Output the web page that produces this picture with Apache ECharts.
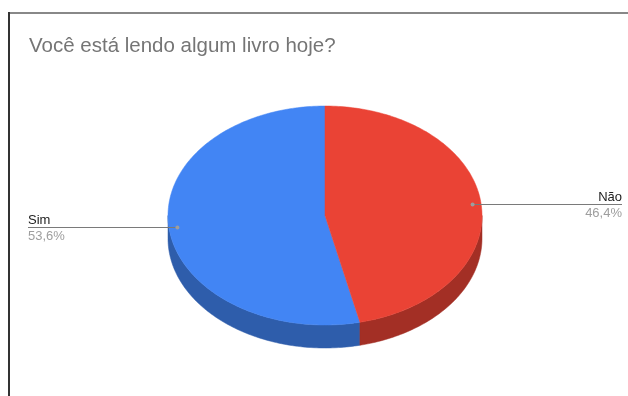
<!DOCTYPE html>
<html>
<head>
<meta charset="utf-8">
<script src="https://cdn.jsdelivr.net/npm/echarts@6/dist/echarts.min.js"></script>
<style>
html,body{margin:0;padding:0;background:#fff;}
#chart{width:628px;height:396px;}
</style>
</head>
<body>
<div id="chart"></div>
<script>
// ---- data ----
var categories = ['Sim', 'Não'];
var values = [15, 13];
var topColors = ['#4285F4', '#EA4335'];
var sideColors = ['#2E5DAB', '#A32F25'];
var titleText = 'Você está lendo algum livro hoje?';

// ---- layout constants ----
var CX = 325, CY = 215.5, RX = 157, RY = 109.5, DEPTH = 23;

var total = values.reduce(function (a, b) { return a + b; }, 0);
// slices laid out counter-clockwise from 12 o'clock (angles measured clockwise from top, in degrees)
var sliceData = [];
var acc = 0;
for (var i = 0; i < values.length; i++) {
  var end = 360 - acc / total * 360;
  acc += values[i];
  var start = 360 - acc / total * 360;
  sliceData.push([start, end, i, values[i]]);
}

function pt(deg, dy) {
  var r = deg * Math.PI / 180;
  return [CX + RX * Math.sin(r), CY - RY * Math.cos(r) + (dy || 0)];
}
function arcPts(a, b, dy) {
  var pts = [];
  var n = Math.max(2, Math.ceil(Math.abs(b - a) / 1));
  for (var k = 0; k <= n; k++) pts.push(pt(a + (b - a) * k / n, dy));
  return pts;
}
function fmtPct(v) {
  return (v / total * 100).toFixed(1).replace('.', ',') + '%';
}

var chart = echarts.init(document.getElementById('chart'), null, { renderer: 'canvas' });

var FONT = 'Liberation Sans, Arial, sans-serif';
var option = {
  animation: false,
  backgroundColor: '#ffffff',
  title: {
    text: titleText,
    left: 29, top: 36, padding: 0,
    textStyle: { fontFamily: FONT, fontSize: 20.5, fontWeight: 'normal', color: '#757575' }
  },
  graphic: [
    { type: 'line', shape: { x1: 9, y1: 13, x2: 628, y2: 13 }, style: { stroke: '#888888', lineWidth: 2 } },
    { type: 'line', shape: { x1: 9, y1: 12, x2: 9, y2: 396 }, style: { stroke: '#333333', lineWidth: 2 } }
  ],
  series: [
    {
      // side walls
      type: 'custom', coordinateSystem: 'none', silent: true, z: 1,
      data: sliceData,
      renderItem: function (params, api) {
        var a = api.value(0), b = api.value(1), idx = api.value(2);
        var lo = Math.max(a, 90), hi = Math.min(b, 270);
        if (hi <= lo) return { type: 'group', children: [] };
        var top = arcPts(lo, hi, 0);
        var bot = arcPts(hi, lo, DEPTH);
        return {
          type: 'polygon',
          shape: { points: top.concat(bot) },
          style: { fill: sideColors[idx], stroke: sideColors[idx], lineWidth: 0.5 }
        };
      }
    },
    {
      // top faces
      type: 'custom', coordinateSystem: 'none', silent: true, z: 2,
      data: sliceData,
      renderItem: function (params, api) {
        var a = api.value(0), b = api.value(1), idx = api.value(2);
        var pts = [[CX, CY]].concat(arcPts(a, b, 0));
        return {
          type: 'polygon',
          shape: { points: pts },
          style: { fill: topColors[idx], stroke: topColors[idx], lineWidth: 0.5 }
        };
      }
    },
    {
      // labels with leader lines
      type: 'custom', coordinateSystem: 'none', silent: true, z: 3,
      data: sliceData,
      renderItem: function (params, api) {
        var a = api.value(0), b = api.value(1), idx = api.value(2), v = api.value(3);
        var mid = (a + b) / 2;
        var r = mid * Math.PI / 180;
        var dx = CX + RX * 0.946 * Math.sin(r);
        var dy = Math.round(CY - RY * 0.946 * Math.cos(r)) + 0.5;
        var right = Math.sin(r) > 0;
        var endX = right ? 622 : 28;
        return {
          type: 'group',
          children: [
            { type: 'line', shape: { x1: dx, y1: dy, x2: endX, y2: dy }, style: { stroke: '#7a7a7a', lineWidth: 1 } },
            { type: 'circle', shape: { cx: dx, cy: dy, r: 2 }, style: { fill: '#9e9e9e' } },
            { type: 'text', x: endX, y: dy - 1, style: {
                text: categories[idx], fill: '#222222', fontSize: 13, fontFamily: FONT,
                align: right ? 'right' : 'left', verticalAlign: 'bottom' } },
            { type: 'text', x: endX, y: dy + 2, style: {
                text: fmtPct(v), fill: '#9e9e9e', fontSize: 13, fontFamily: FONT,
                align: right ? 'right' : 'left', verticalAlign: 'top' } }
          ]
        };
      }
    }
  ]
};
chart.setOption(option);
</script>
</body>
</html>
